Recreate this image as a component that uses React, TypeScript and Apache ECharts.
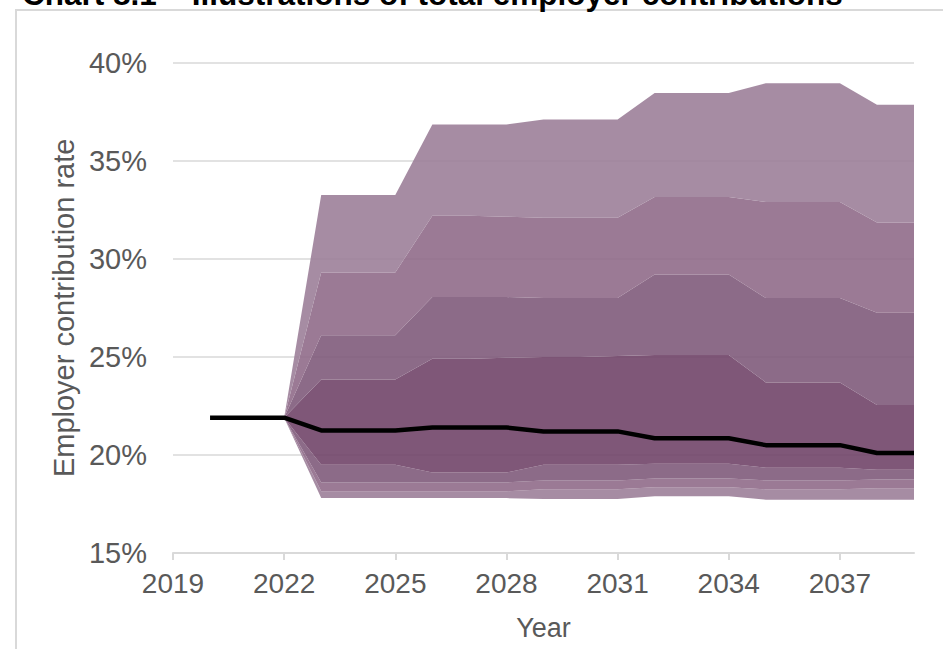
import React, { useEffect, useRef } from "react";
import * as echarts from "echarts";

const titleText = "Chart 8.1 – Illustrations of total employer contributions";
const xAxisTitle = "Year";
const yAxisTitle = "Employer contribution rate";
const xTickYears = [2019, 2022, 2025, 2028, 2031, 2034, 2037];

const lineYears = [2020, 2021, 2022, 2023, 2024, 2025, 2026, 2027, 2028, 2029, 2030, 2031, 2032, 2033, 2034, 2035, 2036, 2037, 2038, 2039];
const centralRate = [21.9, 21.9, 21.9, 21.25, 21.25, 21.25, 21.4, 21.4, 21.4, 21.2, 21.2, 21.2, 20.85, 20.85, 20.85, 20.5, 20.5, 20.5, 20.1, 20.1];

const fanYears = [2022, 2023, 2024, 2025, 2026, 2027, 2028, 2029, 2030, 2031, 2032, 2033, 2034, 2035, 2036, 2037, 2038, 2039];
const upper1 = [21.9, 33.25, 33.25, 33.25, 36.85, 36.85, 36.85, 37.1, 37.1, 37.1, 38.45, 38.45, 38.45, 38.95, 38.95, 38.95, 37.85, 37.85];
const upper2 = [21.9, 29.3, 29.3, 29.3, 32.2, 32.2, 32.15, 32.1, 32.1, 32.1, 33.15, 33.15, 33.15, 32.9, 32.9, 32.9, 31.85, 31.85];
const upper3 = [21.9, 26.1, 26.1, 26.1, 28.05, 28.05, 28.05, 28.0, 28.0, 28.0, 29.2, 29.2, 29.2, 28.0, 28.0, 28.0, 27.25, 27.25];
const upper4 = [21.9, 23.85, 23.85, 23.85, 24.9, 24.9, 24.95, 25.0, 25.0, 25.05, 25.1, 25.1, 25.1, 23.7, 23.7, 23.7, 22.55, 22.55];
const lower4 = [21.9, 19.5, 19.5, 19.5, 19.1, 19.1, 19.1, 19.5, 19.5, 19.5, 19.55, 19.55, 19.55, 19.35, 19.35, 19.35, 19.25, 19.25];
const lower3 = [21.9, 18.6, 18.6, 18.6, 18.6, 18.6, 18.6, 18.7, 18.7, 18.7, 18.8, 18.8, 18.8, 18.7, 18.7, 18.7, 18.75, 18.75];
const lower2 = [21.9, 18.15, 18.15, 18.15, 18.15, 18.15, 18.15, 18.25, 18.25, 18.25, 18.35, 18.35, 18.35, 18.25, 18.25, 18.25, 18.3, 18.3];
const lower1 = [21.9, 17.8, 17.8, 17.8, 17.8, 17.8, 17.8, 17.75, 17.75, 17.75, 17.9, 17.9, 17.9, 17.72, 17.72, 17.72, 17.72, 17.72];

const bandColors = [
  "rgba(156,127,153,0.9)",
  "rgba(144,108,137,0.9)",
  "rgba(128,91,123,0.9)",
  "rgba(113,69,105,0.9)",
];

const FONT = "'Liberation Sans', Arial, sans-serif";
const GREY = "#595959";

export default function App() {
  const ref = useRef<HTMLDivElement>(null);

  useEffect(() => {
    if (!ref.current) return;
    const chart = echarts.init(ref.current, null, { renderer: "svg" });

    // boundaries from bottom to top; each piece lies between two neighbours
    const bounds = [lower1, lower2, lower3, lower4, upper4, upper3, upper2, upper1];
    const pieceColor = [bandColors[0], bandColors[1], bandColors[2], bandColors[3], bandColors[2], bandColors[1], bandColors[0]];

    const fanSeries: any[] = pieceColor.map((color, i) => {
      const lo = bounds[i];
      const hi = bounds[i + 1];
      return {
        type: "custom",
        name: "band" + i,
        silent: true,
        z: 2,
        encode: { x: 0, y: [1, 2] },
        data: fanYears.map((y, k) => [y, lo[k], hi[k]]),
        renderItem: (params: any, api: any) => {
          if (params.dataIndex !== 0) return null;
          const pts: number[][] = [];
          for (let k = 0; k < fanYears.length; k++) pts.push(api.coord([fanYears[k], hi[k]]));
          for (let k = fanYears.length - 1; k >= 0; k--) pts.push(api.coord([fanYears[k], lo[k]]));
          return {
            type: "polygon",
            shape: { points: pts },
            style: { fill: color, stroke: "none" },
          };
        },
      };
    });

    chart.setOption({
      animation: false,
      graphic: [
        {
          type: "rect",
          shape: { x: 16, y: 10, width: 1000, height: 700 },
          style: { fill: "none", stroke: "#d9d9d9", lineWidth: 2 },
          z: 0,
        },
        {
          type: "text",
          x: 22,
          y: -6,
          style: {
            text: titleText,
            font: `bold 31.5px ${FONT}`,
            fill: "#000",
            textVerticalAlign: "middle",
          },
          z: 10,
        },
      ],
      grid: { left: 173, right: 29, top: 62.7, bottom: 96, outerBoundsMode: "none" },
      xAxis: {
        type: "value",
        min: 2019,
        max: 2039,
        name: xAxisTitle,
        nameLocation: "middle",
        nameGap: 61,
        nameTextStyle: { color: GREY, fontSize: 27, fontFamily: FONT },
        axisLine: { show: true, lineStyle: { color: "#d9d9d9", width: 2 } },
        axisTick: { show: true, length: 7, customValues: xTickYears, lineStyle: { color: "#d9d9d9", width: 2 } },
        axisLabel: {
          customValues: xTickYears,
          color: GREY,
          fontSize: 28,
          fontFamily: FONT,
          margin: 16,
          formatter: (v: number) => String(v),
        },
        splitLine: { show: false },
      },
      yAxis: {
        type: "value",
        min: 15,
        max: 40,
        interval: 5,
        name: yAxisTitle,
        nameLocation: "middle",
        nameGap: 94,
        nameRotate: 90,
        nameTextStyle: { color: GREY, fontSize: 29, fontFamily: FONT },
        axisLine: { show: false },
        axisTick: { show: false },
        axisLabel: { color: GREY, fontSize: 29, fontFamily: FONT, margin: 26, formatter: "{value}%" },
        splitLine: { lineStyle: { color: "#d9d9d9", width: 1.5 } },
      },
      series: [
        ...fanSeries,
        {
          type: "line",
          name: "Central",
          data: lineYears.map((y, k) => [y, centralRate[k]]),
          showSymbol: false,
          symbol: "none",
          lineStyle: { color: "#000", width: 4.5 },
          z: 5,
        },
      ],
    });

    return () => chart.dispose();
  }, []);

  return (
    <div
      ref={ref}
      style={{ position: "absolute", left: 0, top: 0, width: 943, height: 649 }}
    />
  );
}
